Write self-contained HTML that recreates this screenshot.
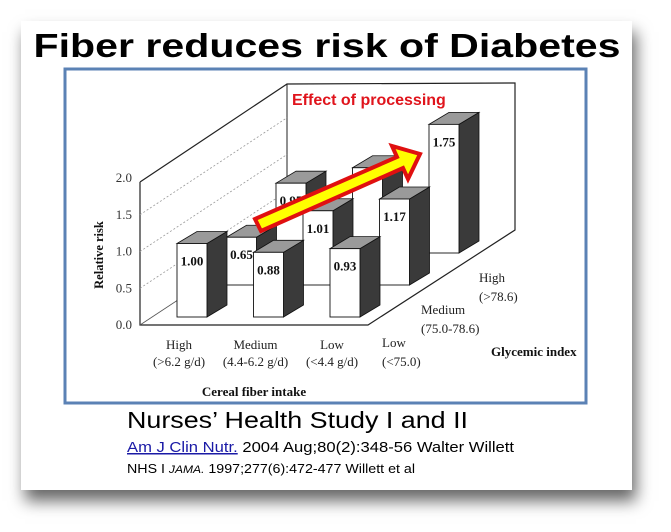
<!DOCTYPE html>
<html><head><meta charset="utf-8"><style>
html,body{margin:0;padding:0;background:#fff;}
#wrap{position:relative;width:671px;height:532px;overflow:hidden;background:#fff;}
#card{position:absolute;left:21px;top:21px;width:611px;height:469px;background:#fff;box-shadow:4px 11px 15px rgba(0,0,0,0.6);}
svg{position:absolute;left:0;top:0;}
</style></head><body>
<div id="wrap">
<div id="card"></div>
<svg id="chart" width="671" height="532" viewBox="0 0 671 532">
  <text x="327" y="57" text-anchor="middle" textLength="587" lengthAdjust="spacingAndGlyphs" font-family="Liberation Sans, sans-serif" font-weight="bold" font-size="33" fill="#000">Fiber reduces risk of Diabetes</text>
  <rect x="65" y="69" width="521" height="334" fill="#fff" stroke="#5b82b5" stroke-width="3"/>
  <g id="walls">
    <polyline points="140,182 140,325 368,325 515,230 515,83 287,84 140,182" fill="none" stroke="#222" stroke-width="1.2"/>
    <line x1="287" y1="84" x2="287" y2="228" stroke="#222" stroke-width="1"/>
    <line x1="140" y1="325" x2="287" y2="228" stroke="#555" stroke-width="0.8"/>
  </g>
  <g id="grid"></g>
  <g id="ticks"></g>
  <g id="bars"></g>
  <g id="arrow">
    <polygon points="255,219 397,157 392,146 420,154 408,179 403,168 261,231" fill="#ffff00" stroke="#e01010" stroke-width="4" stroke-linejoin="miter"/>
  </g>
  <text x="292" y="105" font-family="Liberation Sans, sans-serif" font-weight="bold" font-size="16" fill="#e0141c">Effect of processing</text>
  <text transform="translate(103,255) rotate(-90)" text-anchor="middle" font-family="Liberation Serif, serif" font-weight="bold" font-size="12.5" fill="#111">Relative risk</text>
  <g id="xlabels"></g>
  <g id="zlabels"></g>
  <text x="254" y="396" text-anchor="middle" font-family="Liberation Serif, serif" font-weight="bold" font-size="13" fill="#111">Cereal fiber intake</text>
  <text x="491" y="356" font-family="Liberation Serif, serif" font-weight="bold" font-size="13" fill="#111">Glycemic index</text>
  <text x="127" y="428" textLength="341" lengthAdjust="spacingAndGlyphs" font-family="Liberation Sans, sans-serif" font-size="23" fill="#000">Nurses’ Health Study I and II</text>
  <text x="127" y="452" textLength="387" lengthAdjust="spacingAndGlyphs" font-family="Liberation Sans, sans-serif" font-size="15" fill="#000"><tspan fill="#1a1aa6" text-decoration="underline">Am J Clin Nutr.</tspan> 2004 Aug;80(2):348-56 Walter Willett</text>
  <text x="127" y="473" textLength="288" lengthAdjust="spacingAndGlyphs" font-family="Liberation Sans, sans-serif" font-size="13" fill="#000">NHS I <tspan font-style="italic" font-size="11">JAMA.</tspan> 1997;277(6):472-477 Willett et al</text>
</svg>
</div>
<script>
const fiberCategories = ["High", "Medium", "Low"];
const fiberRanges = ["(>6.2 g/d)", "(4.4-6.2 g/d)", "(<4.4 g/d)"];
const giCategories = ["Low", "Medium", "High"];
const giRanges = ["(<75.0)", "(75.0-78.6)", "(>78.6)"];
const lowGIValues = [1.00, 0.88, 0.93];
const mediumGIValues = [0.65, 1.01, 1.17];
const highGIValues = [0.95, 1.16, 1.75];
const valueLabels = [["1.00","0.88","0.93"],["0.65","1.01","1.17"],["0.95","","1.75"]];
const yTicks = [0, 0.5, 1.0, 1.5, 2.0];
const yTickLabels = ["0.0","0.5","1.0","1.5","2.0"];

const NS = "http://www.w3.org/2000/svg";
const UNIT = 73.5;
function yAxis(v){ return 325 - v*UNIT; }
function colX(c, r){ return 177 + c*76.5 + r*49.5; }
function rowBase(r){ return 317 - r*32; }
function mk(tag, attrs, parent){ const e=document.createElementNS(NS,tag); for(const k in attrs) e.setAttribute(k,attrs[k]); parent.appendChild(e); return e; }

const grid=document.getElementById('grid');
const ticks=document.getElementById('ticks');
yTicks.forEach((t,i)=>{
  const y=yAxis(t);
  if(t>0 && t<2){
    const l=mk('line',{x1:140,y1:y,x2:287,y2:y-97,stroke:'#999','stroke-width':0.8,'stroke-dasharray':'2,2'},grid);
    
    
  }
  const tx=mk('text',{x:132,y:y+4,'text-anchor':'end','font-family':'Liberation Serif, serif','font-size':13,fill:'#333'},ticks);
  tx.textContent=yTickLabels[i];
  
  
});

const rows=[lowGIValues, mediumGIValues, highGIValues];
const bars=document.getElementById('bars');
const W=30, DX=20, DY=12;
for(let r=2;r>=0;r--){
  for(let c=0;c<3;c++){
    const v=rows[r][c];
    const x=colX(c,r), b=rowBase(r), top=b - v*UNIT;
    const g=mk('g',{},bars);
    
    
    const side=mk('polygon',{points:`${x+W},${top} ${x+W+DX},${top-DY} ${x+W+DX},${b-DY} ${x+W},${b}`,fill:'#3a3a3a',stroke:'#111','stroke-width':0.8},g);
    
    
    const tp=mk('polygon',{points:`${x},${top} ${x+DX},${top-DY} ${x+W+DX},${top-DY} ${x+W},${top}`,fill:'#9a9a9a',stroke:'#111','stroke-width':0.8},g);
    
    
    const fr=mk('rect',{x:x,y:top,width:W,height:b-top,fill:'#fff',stroke:'#111','stroke-width':0.9},g);
    
    
    if(valueLabels[r][c]){
      const t=mk('text',{x:x+W/2,y:top+22,'text-anchor':'middle','font-family':'Liberation Serif, serif','font-weight':'bold','font-size':13,fill:'#111'},g);
      t.textContent=valueLabels[r][c];
      
      
    }
  }
}

const xl=document.getElementById('xlabels');
fiberCategories.forEach((name,c)=>{
  const cx=colX(c,0)+2;
  const a=mk('text',{x:cx,y:349,'text-anchor':'middle','font-family':'Liberation Serif, serif','font-size':13,fill:'#222'},xl);
  a.textContent=name;
  
  
  const b=mk('text',{x:cx,y:366,'text-anchor':'middle','font-family':'Liberation Serif, serif','font-size':13,fill:'#222'},xl);
  b.textContent=fiberRanges[c];
  
  
});
const zl=document.getElementById('zlabels');
const zx=[382,421,479], zy=[347,314,282];
giCategories.forEach((name,r)=>{
  const a=mk('text',{x:zx[r],y:zy[r],'font-family':'Liberation Serif, serif','font-size':13,fill:'#222'},zl);
  a.textContent=name;
  
  
  const b=mk('text',{x:zx[r],y:zy[r]+19,'font-family':'Liberation Serif, serif','font-size':13,fill:'#222'},zl);
  b.textContent=giRanges[r];
  
  
});
</script>
</body></html>
